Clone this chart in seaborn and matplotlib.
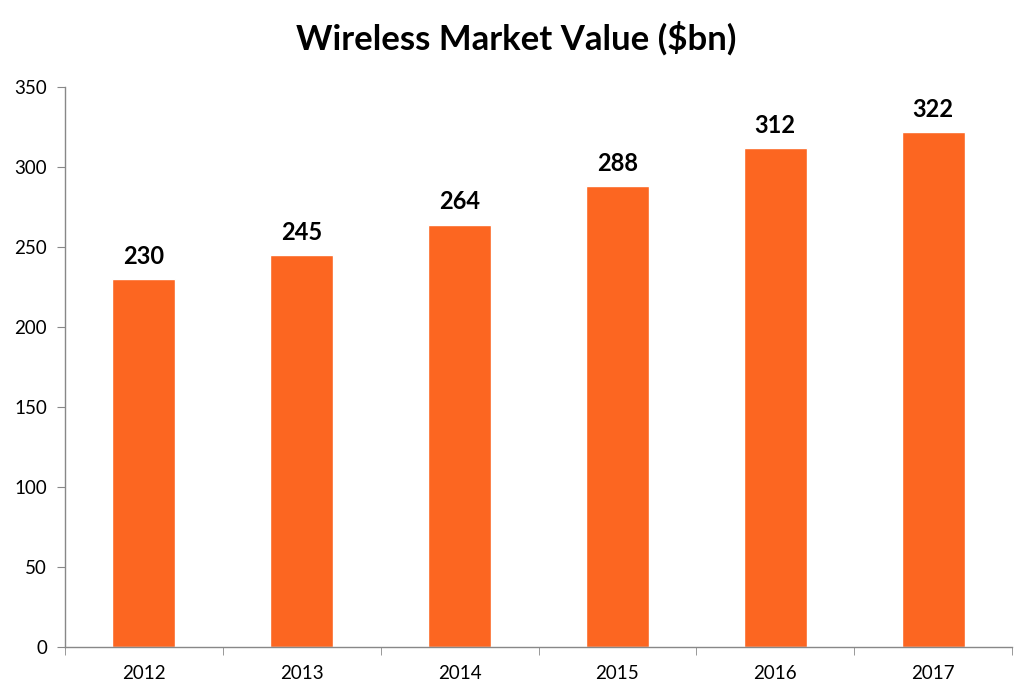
import numpy as np
import pandas as pd
import seaborn as sns
import matplotlib.pyplot as plt

# Wireless market value by year ($bn)
years = ["2012", "2013", "2014", "2015", "2016", "2017"]
values = [230, 245, 264, 288, 312, 322]

BAR_COLOR = "#FC6621"
AXIS_COLOR = "#888888"

sns.set_style("white")
plt.rcParams['font.family'] = ['Lato', 'DejaVu Sans']
plt.rcParams['text.color'] = 'black'
plt.rcParams['xtick.color'] = 'black'
plt.rcParams['ytick.color'] = 'black'

df = pd.DataFrame({"year": years, "value": values})

fig = plt.figure(figsize=(10.33, 6.99), dpi=100)
ax = fig.add_axes([0.0629, 0.0744, 0.9168, 0.8011])

sns.barplot(data=df, x="year", y="value", color=BAR_COLOR, width=0.4,
            saturation=1, ax=ax)

ax.set_xlim(-0.5, len(years) - 0.5)
ax.set_ylim(0, 350)
ax.set_yticks(range(0, 351, 50))
ax.set_xlabel("")
ax.set_ylabel("")

# value labels above bars
for i, v in enumerate(values):
    ax.text(i, v + 7, str(v), ha="center", va="bottom",
            fontsize=17, fontweight="bold", color="black")

# spines: left and bottom only, grey
for side in ["top", "right"]:
    ax.spines[side].set_visible(False)
for side in ["left", "bottom"]:
    ax.spines[side].set_color(AXIS_COLOR)
    ax.spines[side].set_linewidth(1.0)

# x ticks between categories, labels centered
ax.set_xticks(np.arange(-0.5, len(years), 1.0), minor=True)
ax.tick_params(axis="x", which="major", length=0, labelsize=13.5, pad=13,
               labelcolor="black")
ax.tick_params(axis="x", which="minor", length=6, color=AXIS_COLOR, direction="out")
ax.tick_params(axis="y", which="major", length=6, color=AXIS_COLOR,
               direction="out", labelsize=13.5, pad=7, labelcolor="black")
ax.xaxis.set_ticks_position("bottom")
ax.yaxis.set_ticks_position("left")

fig.suptitle("Wireless Market Value ($bn)", fontsize=25, fontweight="bold",
             y=0.97, x=0.5, color="black")

plt.savefig("out.png", dpi=100)
plt.close()
